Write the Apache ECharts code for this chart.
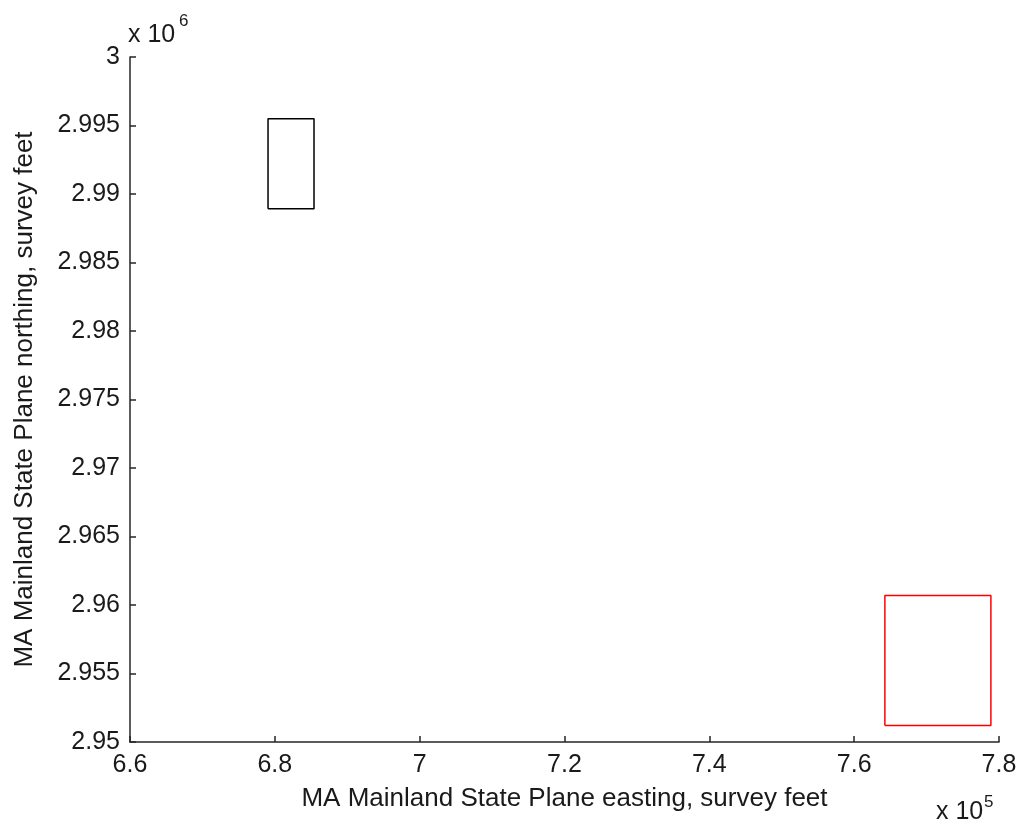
<!DOCTYPE html>
<html><head><meta charset="utf-8">
<script src="https://cdn.jsdelivr.net/npm/echarts@6/dist/echarts.min.js"></script>
<style>html,body{margin:0;padding:0;background:#fff}#c{width:1031px;height:825px}</style>
</head><body><div id="c"></div>
<script>
// Data (survey feet)
const blackRectX = [679060, 685410, 685410, 679060, 679060];
const blackRectY = [2988920, 2988920, 2995490, 2995490, 2988920];
const redRectX = [764240, 778880, 778880, 764240, 764240];
const redRectY = [2951200, 2951200, 2960700, 2960700, 2951200];
const xLabel = 'MA Mainland State Plane easting, survey feet';
const yLabel = 'MA Mainland State Plane northing, survey feet';
const xMin = 660000, xMax = 780000, xStep = 20000;
const yMin = 2950000, yMax = 3000000, yStep = 5000;

const FONT = 'Liberation Sans, Arial, sans-serif';
const FS = 25;
const NFS = 26;
const TXT = '#1a1a1a';
const zip = (a, b) => a.map((v, i) => [v, b[i]]);

const chart = echarts.init(document.getElementById('c'), null, {renderer: 'canvas'});
chart.setOption({
  animation: false,
  backgroundColor: '#ffffff',
  grid: {left: 130, right: 32, top: 57, bottom: 83, containLabel: false},
  xAxis: {
    type: 'value', min: xMin, max: xMax, interval: xStep,
    axisLine: {show: true, onZero: false, lineStyle: {color: '#262626', width: 1.5}},
    axisTick: {show: true, inside: true, length: 6, lineStyle: {color: '#262626', width: 1.5}},
    splitLine: {show: false},
    axisLabel: {margin: 11, fontFamily: FONT, fontSize: FS, color: TXT,
      formatter: v => String(+(v / 1e5).toFixed(1))},
    name: xLabel, nameLocation: 'middle', nameGap: 44,
    nameTextStyle: {fontFamily: FONT, fontSize: NFS, color: TXT}
  },
  yAxis: {
    type: 'value', min: yMin, max: yMax, interval: yStep,
    axisLine: {show: true, onZero: false, lineStyle: {color: '#262626', width: 1.5}},
    axisTick: {show: true, inside: true, length: 6, lineStyle: {color: '#262626', width: 1.5}},
    splitLine: {show: false},
    axisLabel: {margin: 10, fontFamily: FONT, fontSize: FS, color: TXT,
      formatter: v => String(+(v / 1e6).toFixed(3))},
    name: yLabel, nameLocation: 'middle', nameGap: 92, nameRotate: 90,
    nameTextStyle: {fontFamily: FONT, fontSize: NFS, color: TXT}
  },
  series: [
    {type: 'line', data: zip(blackRectX, blackRectY), symbol: 'none',
      lineStyle: {color: '#000000', width: 1.5}},
    {type: 'line', data: zip(redRectX, redRectY), symbol: 'none',
      lineStyle: {color: '#ff0000', width: 1.5}}
  ],
  graphic: [
    {type: 'text', style: {x: 128, y: 35, text: 'x 10', font: FS + 'px ' + FONT, fill: TXT, verticalAlign: 'middle', align: 'left'}},
    {type: 'text', style: {x: 179, y: 21, text: '6', font: '17px ' + FONT, fill: TXT, verticalAlign: 'middle', align: 'left'}},
    {type: 'text', style: {x: 936, y: 812, text: 'x 10', font: FS + 'px ' + FONT, fill: TXT, verticalAlign: 'middle', align: 'left'}},
    {type: 'text', style: {x: 984, y: 802, text: '5', font: '17px ' + FONT, fill: TXT, verticalAlign: 'middle', align: 'left'}}
  ]
});
</script></body></html>
